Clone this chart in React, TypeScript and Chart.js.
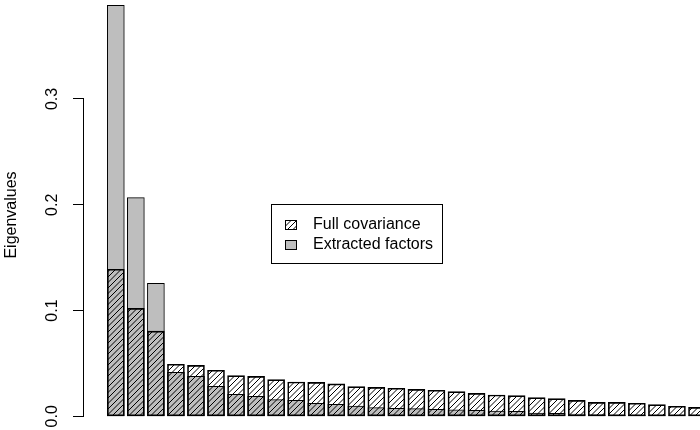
import React, { useEffect, useRef } from 'react';
import { Chart, registerables } from 'chart.js';

Chart.register(...registerables);

// ---- data ----
const components = [1, 2, 3, 4, 5, 6, 7, 8, 9, 10, 11, 12, 13, 14, 15, 16, 17, 18, 19, 20, 21, 22, 23, 24, 25, 26, 27, 28, 29, 30];
const fullCovariance = [
  0.139, 0.102, 0.0806, 0.0492, 0.0482, 0.0435, 0.0384, 0.0378, 0.0346, 0.0324,
  0.0321, 0.0307, 0.028, 0.0274, 0.0265, 0.0255, 0.0246, 0.0233, 0.0217, 0.0201,
  0.0195, 0.0176, 0.0167, 0.0151, 0.0132, 0.0132, 0.0123, 0.011, 0.0095, 0.0085,
];
const extractedFactors = [
  0.3886, 0.2067, 0.1257, 0.0416, 0.0378, 0.0284, 0.0208, 0.0189, 0.0157, 0.0151,
  0.0123, 0.0113, 0.0097, 0.0082, 0.0075, 0.0072, 0.0066, 0.006, 0.0057, 0.005,
  0.0047, 0.0031, 0.0028, 0.0022, 0.0015, 0.0012, 0.0012, 0.0007, 0.0005, 0.0003,
];
const yTicks = [0, 0.1, 0.2, 0.3];
const seriesLabels = ['Full covariance', 'Extracted factors'];
const yTitle = 'Eigenvalues';

const FONT = '"Liberation Sans", Arial, Helvetica, sans-serif';
const GREY = '#BEBEBE';

function makeHatch(bg: string | null) {
  const s = 11;
  const c = document.createElement('canvas');
  c.width = s;
  c.height = s;
  const g = c.getContext('2d')!;
  if (bg) {
    g.fillStyle = bg;
    g.fillRect(0, 0, s, s);
  }
  g.strokeStyle = '#000';
  g.lineWidth = 1;
  for (const k of [-s, -s / 2, 0, s / 2, s]) {
    g.beginPath();
    g.moveTo(k, s);
    g.lineTo(k + s, 0);
    g.stroke();
  }
  return g.createPattern(c, 'repeat')!;
}

const axisLinePlugin = {
  id: 'rAxisLine',
  afterDraw(chart: any) {
    const ys = chart.scales.y;
    const ctx = chart.ctx;
    const x = Math.round(ys.right) + 0.5;
    const y0 = Math.round(ys.getPixelForValue(yTicks[0]) - 0.5) + 0.5;
    const y1 = Math.round(ys.getPixelForValue(yTicks[yTicks.length - 1]) - 0.5) + 0.5;
    ctx.save();
    ctx.strokeStyle = '#000';
    ctx.lineWidth = 1;
    ctx.beginPath();
    ctx.moveTo(x, y0 + 0.5);
    ctx.lineTo(x, y1 - 0.5);
    ctx.stroke();
    ctx.restore();
  },
};

const legendPlugin = {
  id: 'rLegend',
  afterDraw(chart: any) {
    const ctx = chart.ctx;
    const ds = chart.data.datasets;
    ctx.save();
    ctx.fillStyle = '#fff';
    ctx.fillRect(271.5, 204.5, 171, 59);
    ctx.strokeStyle = '#000';
    ctx.lineWidth = 1;
    ctx.strokeRect(271.5, 204.5, 171, 59);
    const rows = [
      { sq: 220.5, base: 229, fill: ds[0].legendFill },
      { sq: 240.5, base: 248.5, fill: ds[1].backgroundColor },
    ];
    rows.forEach((r, i) => {
      ctx.fillStyle = r.fill;
      ctx.fillRect(285.5, r.sq, 11, 9);
      ctx.strokeStyle = '#000';
      ctx.strokeRect(285.5, r.sq, 11, 9);
      ctx.fillStyle = '#000';
      ctx.font = `16px ${FONT}`;
      ctx.textAlign = 'left';
      ctx.textBaseline = 'alphabetic';
      ctx.fillText(ds[i].label, 313, r.base);
    });
    ctx.restore();
  },
};

export default function App() {
  const ref = useRef<HTMLCanvasElement | null>(null);

  useEffect(() => {
    const canvas = ref.current!;
    const hatch = makeHatch(null);
    const hatchWhite = makeHatch('#fff');
    const chart = new Chart(canvas, {
      type: 'bar',
      data: {
        datasets: [
          {
            label: seriesLabels[0],
            data: components.map((c, i) => ({ x: c, y: fullCovariance[i] })),
            backgroundColor: hatch,
            borderColor: '#000',
            borderWidth: 1,
            borderSkipped: false,
            barThickness: 17,
            grouped: false,
            legendFill: hatchWhite,
          } as any,
          {
            label: seriesLabels[1],
            data: components.map((c, i) => ({ x: c, y: extractedFactors[i] })),
            backgroundColor: GREY,
            borderColor: '#000',
            borderWidth: 1,
            borderSkipped: false,
            barThickness: 17,
            grouped: false,
          } as any,
        ],
      },
      options: {
        animation: false,
        responsive: false,
        devicePixelRatio: 1,
        layout: { padding: 0 },
        plugins: {
          legend: { display: false },
          tooltip: { enabled: false },
        },
        scales: {
          x: {
            type: 'linear',
            display: false,
            offset: false,
            bounds: 'ticks',
            min: -0.637,
            max: 30.15,
          },
          y: {
            type: 'linear',
            position: 'left',
            min: -0.012953,
            max: 0.39359,
            afterBuildTicks: (scale: any) => {
              scale.ticks = yTicks.map((v) => ({ value: v }));
            },
            afterFit: (scale: any) => {
              scale.width = 83;
              scale.paddingTop = 0;
              scale.paddingBottom = 0;
            },
            border: { display: false },
            grid: {
              drawOnChartArea: false,
              drawTicks: true,
              tickLength: 10,
              color: '#000',
              lineWidth: 1,
            },
            ticks: {
              color: '#000',
              font: { family: FONT, size: 16 },
              minRotation: 90,
              maxRotation: 90,
              crossAlign: 'center',
              padding: 9,
              callback: (v: any) => Number(v).toFixed(1),
            },
            title: {
              display: true,
              text: yTitle,
              color: '#000',
              font: { family: FONT, size: 16 },
              padding: { top: 2, bottom: 0 },
            },
          },
        },
      } as any,
      plugins: [axisLinePlugin, legendPlugin],
    });
    return () => chart.destroy();
  }, []);

  return (
    <div style={{ position: 'absolute', left: 0, top: 0, width: 700, height: 430, background: '#fff' }}>
      <canvas ref={ref} width={700} height={430} style={{ display: 'block', width: 700, height: 430 }} />
    </div>
  );
}
